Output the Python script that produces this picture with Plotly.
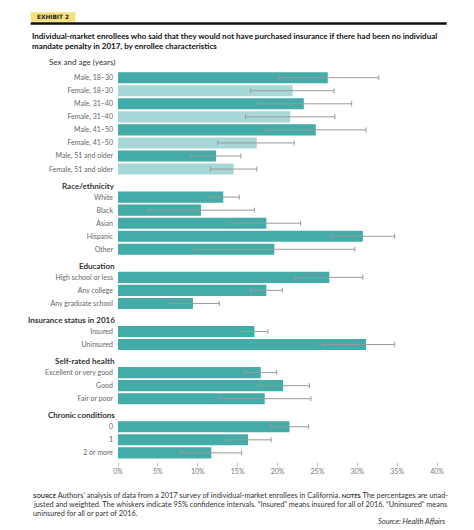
import plotly.graph_objects as go

# Data (percent, with 95% CI whiskers)
sex_age_labels = ["Male, 18–30", "Female, 18–30", "Male, 31–40", "Female, 31–40",
                  "Male, 41–50", "Female, 41–50", "Male, 51 and older", "Female, 51 and older"]
sex_age_values = [26.3, 21.9, 23.3, 21.6, 24.8, 17.4, 12.3, 14.5]
sex_age_low = [20.1, 16.6, 17.4, 16.0, 18.5, 12.5, 9.2, 11.6]
sex_age_high = [32.7, 27.1, 29.3, 27.2, 31.1, 22.1, 15.4, 17.4]

race_labels = ["White", "Black", "Asian", "Hispanic", "Other"]
race_values = [13.2, 10.4, 18.6, 30.7, 19.6]
race_low = [11.3, 3.8, 14.3, 26.7, 9.4]
race_high = [15.2, 17.1, 22.9, 34.7, 29.7]

edu_labels = ["High school or less", "Any college", "Any graduate school"]
edu_values = [26.5, 18.6, 9.4]
edu_low = [22.2, 16.6, 6.3]
edu_high = [30.7, 20.6, 12.7]

ins_labels = ["Insured", "Uninsured"]
ins_values = [17.1, 31.1]
ins_low = [15.3, 25.7]
ins_high = [18.8, 34.7]

health_labels = ["Excellent or very good", "Good", "Fair or poor"]
health_values = [17.9, 20.7, 18.4]
health_low = [15.9, 17.5, 12.6]
health_high = [19.9, 24.0, 24.2]

chronic_labels = ["0", "1", "2 or more"]
chronic_values = [21.5, 16.3, 11.7]
chronic_low = [19.1, 13.4, 7.9]
chronic_high = [23.9, 19.2, 15.5]

headings = ["Sex and age (years)", "Race/ethnicity", "Education",
            "Insurance status in 2016", "Self-rated health", "Chronic conditions"]

x_ticks = [0, 5, 10, 15, 20, 25, 30, 35, 40]
x_tick_labels = [f"{t}%" for t in x_ticks]

DARK = "#43aba8"
LIGHT = "#a7d8d7"
FONT = "Lato"

groups = [
    (sex_age_labels, sex_age_values, sex_age_low, sex_age_high),
    (race_labels, race_values, race_low, race_high),
    (edu_labels, edu_values, edu_low, edu_high),
    (ins_labels, ins_values, ins_low, ins_high),
    (health_labels, health_values, health_low, health_high),
    (chronic_labels, chronic_values, chronic_low, chronic_high),
]

# lay the bars out on a numeric y axis, with gaps between groups
ypos, labels, vals, plus, minus, colors, head_pos = [], [], [], [], [], [], []
pos = 0.0
for gi, (lab, v, lo, hi) in enumerate(groups):
    head_pos.append(pos - (1.2 if gi == 0 else 0.88))
    for i in range(len(lab)):
        ypos.append(pos)
        labels.append(lab[i])
        vals.append(v[i])
        plus.append(hi[i] - v[i])
        minus.append(v[i] - lo[i])
        if gi == 0:
            colors.append(DARK if i % 2 == 0 else LIGHT)
        else:
            colors.append(DARK)
        pos += 1
    pos += 1.15

fig = go.Figure()
fig.add_trace(go.Bar(
    x=vals, y=ypos, orientation="h",
    marker=dict(color=colors, line=dict(width=0)),
    width=0.85,
    error_x=dict(type="data", array=plus, arrayminus=minus,
                 color="#9a9a9a", thickness=1, width=2.5),
    hoverinfo="x+text", text=labels, textposition="none",
))

# the page body has an 8px margin, so the figure is drawn a bit smaller
OFF = 8
W_PAGE, H_PAGE = 474 - OFF, 530 - OFF
# plot area in reference-page pixels
L, R, T, B = 118.3, 437.3, 55.0, 461.7


def px(x):
    return (x - L) / (R - L)


def py(y):
    return (B - y) / (B - T)


annotations = []
for h, hp in zip(headings, head_pos):
    annotations.append(dict(
        text=h if hp < -1 else "<b>" + h + "</b>", xref="paper", yref="y", x=0, y=hp,
        xanchor="right", yanchor="middle", xshift=-1, showarrow=False,
        font=dict(family=FONT, size=8, color="#333")))

annotations.append(dict(
    text="<b>EXHIBIT 2</b>", xref="paper", yref="paper", x=px(53.3), y=py(17.2),
    xanchor="center", yanchor="middle", showarrow=False,
    font=dict(family="DejaVu Sans", size=5.8, color="#222")))

annotations.append(dict(
    text="<b>Individual-market enrollees who said that they would not have purchased insurance if there had been no individual"
         "<br>mandate penalty in 2017, by enrollee characteristics</b>",
    xref="paper", yref="paper", x=px(30), y=py(29), xanchor="left", yanchor="top",
    align="left", showarrow=False, font=dict(family=FONT, size=8, color="#111")))

foot_lines = [
    "<b><span style='font-size:5.8px'>SOURCE</span></b> Authors' analysis of data from a 2017 survey of individual-market enrollees in California. "
    "<b><span style='font-size:5.8px'>NOTES</span></b> The percentages are unad-",
    "justed and weighted. The whiskers indicate 95% confidence intervals. “Insured” means insured for all of 2016. “Uninsured” means",
    "uninsured for all or part of 2016.",
]
for k, line in enumerate(foot_lines):
    annotations.append(dict(
        text=line, xref="paper", yref="paper", x=px(31), y=py(495 + 9.1 * k),
        xanchor="left", yanchor="middle", align="left", showarrow=False,
        font=dict(family=FONT, size=7.35, color="#333")))

annotations.append(dict(
    text="<i>Source: Health Affairs</i>", xref="paper", yref="paper", x=px(447), y=py(521),
    xanchor="right", yanchor="middle", showarrow=False,
    font=dict(family=FONT, size=7.5, color="#333")))

shapes = [
    dict(type="rect", xref="paper", yref="paper", x0=px(31), x1=px(75.7), y0=py(21.7), y1=py(12.3),
         fillcolor="#f5e07e", line=dict(width=0), layer="below"),
    dict(type="line", xref="paper", yref="paper", x0=px(31), x1=px(447), y0=py(23.5), y1=py(23.5),
         line=dict(color="#111", width=2.6)),
]

fig.update_layout(
    width=W_PAGE, height=H_PAGE,
    margin=dict(l=L - OFF, r=W_PAGE - (R - OFF), t=T - OFF, b=H_PAGE - (B - OFF), pad=0),
    paper_bgcolor="white", plot_bgcolor="white",
    showlegend=False,
    font=dict(family=FONT, color="#666"),
    xaxis=dict(range=[0, 40], tickvals=x_ticks, ticktext=x_tick_labels,
               ticks="outside", ticklen=3, tickcolor="#bbb", tickwidth=0.8,
               showgrid=False, zeroline=False, showline=False,
               tickfont=dict(family=FONT, size=7, color="#777")),
    yaxis=dict(range=[29.45, -1.74], tickvals=ypos, ticktext=labels,
               showgrid=False, zeroline=False, showline=False, ticks="",
               ticklabelstandoff=4, tickfont=dict(family=FONT, size=7, color="#666")),
    annotations=annotations,
    shapes=shapes,
)

fig.write_html("out.html")
